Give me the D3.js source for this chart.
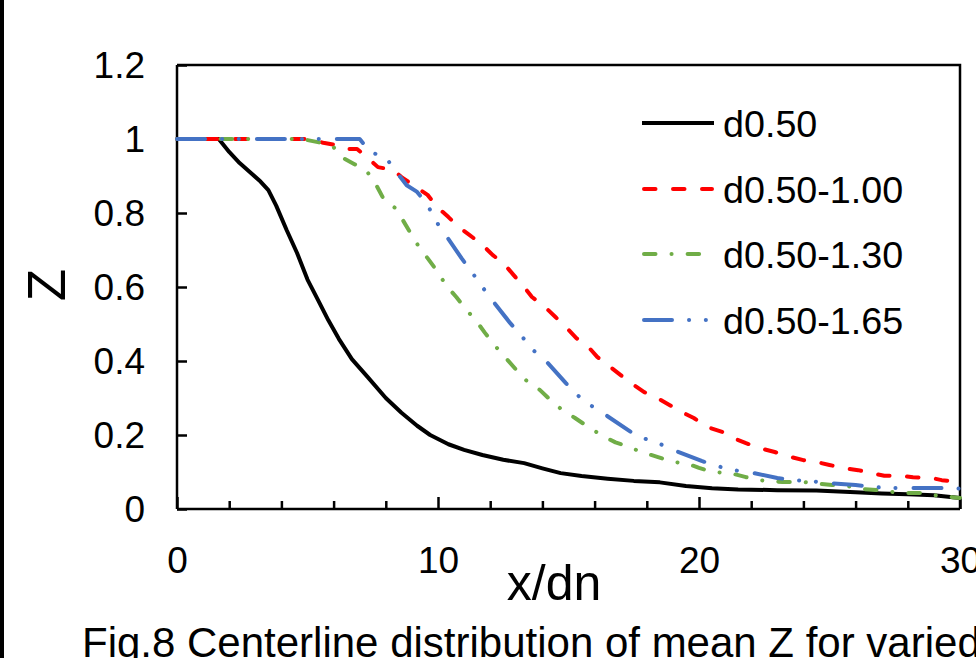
<!DOCTYPE html>
<html>
<head>
<meta charset="utf-8">
<script src="https://cdn.jsdelivr.net/npm/d3@7/dist/d3.min.js"></script>
<style>
  html, body { margin: 0; padding: 0; background: #fff; overflow: hidden; }
  svg { display: block; }
  text { font-family: "Liberation Sans", Arial, sans-serif; fill: #000; }
</style>
</head>
<body>
<div class="chartHolder"></div>
<script>
// series names
const seriesNames = ["d0.50", "d0.50-1.00", "d0.50-1.30", "d0.50-1.65"];

// d0.50
const xBlack = [0, 0.5, 1.0, 1.6, 2.0, 2.4, 2.8, 3.2, 3.5, 3.8, 4.2, 4.6, 5.0, 5.4, 5.8, 6.2, 6.7, 7.3, 8.0, 8.6,
  9.2, 9.7, 10.4, 11.0, 11.7, 12.5, 13.3, 14.0, 14.7, 15.5, 16.5, 17.5, 18.5, 19.5, 20.5, 21.5, 23.0, 24.5,
  26.0, 27.0, 28.0, 29.0, 30.0];
const zBlack = [1, 1, 1, 1, 0.965, 0.935, 0.91, 0.885, 0.862, 0.82, 0.754, 0.692, 0.62, 0.565, 0.51, 0.46, 0.405,
  0.357, 0.3, 0.26, 0.225, 0.2, 0.175, 0.16, 0.146, 0.133, 0.124, 0.11, 0.097, 0.089, 0.082, 0.076, 0.072,
  0.062, 0.056, 0.053, 0.051, 0.05, 0.045, 0.042, 0.04, 0.037, 0.03];

// d0.50-1.00
const xRed = [0, 2, 4, 5.0, 5.6, 6.0, 6.4, 6.9, 7.4, 7.7, 8.3, 8.6, 9.2, 9.6, 10.0, 10.4, 10.8, 11.2, 11.7, 12.1,
  12.5, 12.9, 13.3, 13.6, 14.1, 14.5, 14.9, 15.3, 15.8, 16.1, 16.6, 17.0, 17.4, 17.9, 18.4, 18.9, 19.4, 19.8,
  20.3, 20.9, 21.3, 21.8, 22.3, 22.9, 23.5, 24.0, 24.5, 25.0, 25.5, 26.1, 26.6, 27.1, 27.7, 28.2, 28.9, 29.3, 30];
const zRed = [1, 1, 1, 1, 0.99, 0.985, 0.973, 0.973, 0.943, 0.924, 0.916, 0.897, 0.868, 0.849, 0.814, 0.789,
  0.762, 0.741, 0.714, 0.686, 0.665, 0.632, 0.6, 0.573, 0.546, 0.519, 0.492, 0.462, 0.435, 0.411, 0.384, 0.362,
  0.34, 0.316, 0.3, 0.28, 0.26, 0.246, 0.222, 0.208, 0.192, 0.178, 0.165, 0.154, 0.141, 0.132, 0.127, 0.119,
  0.111, 0.105, 0.097, 0.09, 0.09, 0.086, 0.084, 0.078, 0.073];

// d0.50-1.30
const xGreen = [0, 2, 4, 4.8, 5.5, 6.0, 6.3, 6.8, 7.3, 7.6, 7.9, 8.35, 8.66, 8.97, 9.3, 9.6, 10.0, 10.3, 10.7,
  11.07, 11.5, 11.8, 12.2, 12.6, 13.0, 13.4, 13.9, 14.3, 14.75, 15.25, 15.75, 16.25, 16.8, 17.3, 17.8, 18.4,
  19.0, 19.5, 20.0, 20.5, 21.2, 21.8, 22.3, 23.2, 24.0, 24.6, 25.1, 25.9, 26.3, 26.9, 27.4, 28.0, 28.6, 29.2,
  29.7, 30];
const zGreen = [1, 1, 1, 1, 0.99, 0.978, 0.951, 0.932, 0.91, 0.88, 0.84, 0.814, 0.78, 0.743, 0.705, 0.678, 0.64,
  0.605, 0.573, 0.54, 0.505, 0.476, 0.44, 0.408, 0.376, 0.346, 0.322, 0.295, 0.268, 0.246, 0.222, 0.2, 0.18,
  0.168, 0.154, 0.141, 0.127, 0.124, 0.111, 0.1, 0.097, 0.086, 0.078, 0.073, 0.073, 0.068, 0.065, 0.06, 0.054,
  0.051, 0.046, 0.043, 0.043, 0.035, 0.032, 0.03];

// d0.50-1.65
const xBlue = [0, 2, 4, 6, 7.0, 7.4, 8.0, 8.35, 8.8, 9.2, 9.6, 9.9, 10.3, 10.9, 11.3, 11.7, 12.07, 12.76, 13.2,
  13.6, 14.1, 14.9, 15.3, 15.85, 16.3, 17.4, 17.85, 18.5, 19.0, 20.1, 20.7, 21.3, 21.9, 23.0, 23.6, 24.25, 24.9,
  26.0, 26.6, 27.2, 27.8, 29.0, 29.5, 30];
const zBlue = [1, 1, 1, 1, 1, 0.965, 0.95, 0.916, 0.875, 0.857, 0.822, 0.78, 0.74, 0.678, 0.64, 0.6, 0.565,
  0.503, 0.468, 0.432, 0.403, 0.34, 0.31, 0.28, 0.26, 0.208, 0.192, 0.176, 0.16, 0.13, 0.116, 0.105, 0.1,
  0.084, 0.078, 0.076, 0.07, 0.065, 0.06, 0.057, 0.057, 0.057, 0.057, 0.055];

// ticks
const xMajorTicks = [0, 10, 20, 30];
const xMinorTicks = [2, 4, 6, 8, 12, 14, 16, 18, 22, 24, 26, 28];
const yTicks = [0, 0.2, 0.4, 0.6, 0.8, 1, 1.2];

const width = 976;
const height = 658;
const plotLeft = 177, plotRight = 960, plotTop = 65, plotBottom = 509;
const fontSize = 37;

const svg = d3
  .select(".chartHolder")
  .append("svg")
  .attr("width", width)
  .attr("height", height);

// black bar at the left edge of the page
svg.append("rect")
  .attr("x", 0).attr("y", 0)
  .attr("width", 4).attr("height", height)
  .attr("fill", "#000");

const xScale = d3.scaleLinear().domain([0, 30]).range([plotLeft, plotRight]);
const yScale = d3.scaleLinear().domain([0, 1.2]).range([plotBottom, plotTop]);

// frame (top + right)
svg.append("path")
  .attr("d", `M${plotLeft},${plotTop}H${plotRight}V${plotBottom}`)
  .attr("fill", "none")
  .attr("stroke", "#000")
  .attr("stroke-width", 2.5);

// y axis
const yAxis = d3.axisLeft(yScale)
  .tickValues(yTicks)
  .tickSize(-10)
  .tickPadding(32)
  .tickFormat(d3.format("~g"));

const gy = svg.append("g")
  .attr("transform", `translate(${plotLeft},0)`)
  .call(yAxis);
gy.select(".domain").attr("stroke-width", 2.5).attr("d", `M0,${plotTop}V${plotBottom}`);
gy.selectAll(".tick line").attr("stroke-width", 2.5);
gy.selectAll("text").attr("font-size", fontSize).attr("font-family", "Liberation Sans, Arial, sans-serif").attr("dy", "0.34em");

// x axis minor ticks
const gxMinor = svg.append("g")
  .attr("transform", `translate(0,${plotBottom})`)
  .call(d3.axisBottom(xScale).tickValues(xMinorTicks).tickSize(-8).tickFormat(""));
gxMinor.select(".domain").remove();
gxMinor.selectAll(".tick line").attr("stroke-width", 2.5);

// x axis major
const gx = svg.append("g")
  .attr("transform", `translate(0,${plotBottom})`)
  .call(d3.axisBottom(xScale).tickValues(xMajorTicks).tickSize(-12).tickPadding(38));
gx.select(".domain").attr("stroke-width", 2.5).attr("d", `M${plotLeft},0H${plotRight}`);
gx.selectAll(".tick line").attr("stroke-width", 2.5);
gx.selectAll("text").attr("font-size", fontSize).attr("font-family", "Liberation Sans, Arial, sans-serif");

// series
const series = [
  { name: seriesNames[0], xs: xBlack, zs: zBlack, color: "#000000", dash: null },
  { name: seriesNames[1], xs: xRed, zs: zRed, color: "#FF0000", dash: "11.5,17.5" },
  { name: seriesNames[2], xs: xGreen, zs: zGreen, color: "#70AD47", dash: "11.5,16,0.1,16" },
  { name: seriesNames[3], xs: xBlue, zs: zBlue, color: "#4472C4", dash: "28,17,0.1,16.7,0.1,18" }
];

const line = d3.line()
  .x((d) => xScale(d[0]))
  .y((d) => yScale(d[1]));

series.forEach((s) => {
  const pts = s.xs.map((x, i) => [x, s.zs[i]]);
  svg.append("path")
    .datum(pts)
    .attr("d", line)
    .attr("fill", "none")
    .attr("stroke", s.color)
    .attr("stroke-width", 4)
    .attr("stroke-linejoin", "round")
    .attr("stroke-linecap", s.dash ? "round" : "butt")
    .attr("stroke-dasharray", s.dash);
});

// legend
const legendY = [123, 189, 254, 320];
series.forEach((s, i) => {
  svg.append("line")
    .attr("x1", s.dash ? 644 : 642)
    .attr("x2", s.dash ? 712 : 714)
    .attr("y1", legendY[i])
    .attr("y2", legendY[i])
    .attr("stroke", s.color)
    .attr("stroke-width", 4)
    .attr("stroke-linecap", s.dash ? "round" : "butt")
    .attr("stroke-dasharray", s.dash);
  svg.append("text")
    .attr("x", 723)
    .attr("y", legendY[i])
    .attr("dy", "0.36em")
    .attr("font-size", 37.7)
    .text(s.name);
});

// axis titles
svg.append("text")
  .attr("x", 554)
  .attr("y", 600)
  .attr("text-anchor", "middle")
  .attr("font-size", 50)
  .text("x/dn");

svg.append("text")
  .attr("transform", "translate(65,285) rotate(-90)")
  .attr("text-anchor", "middle")
  .attr("font-size", 53)
  .text("Z");

// caption (runs past the right edge, as in the original figure)
svg.append("text")
  .attr("x", 82)
  .attr("y", 657)
  .attr("font-size", 42)
  .text("Fig.8 Centerline distribution of mean Z for varied");
</script>
</body>
</html>
